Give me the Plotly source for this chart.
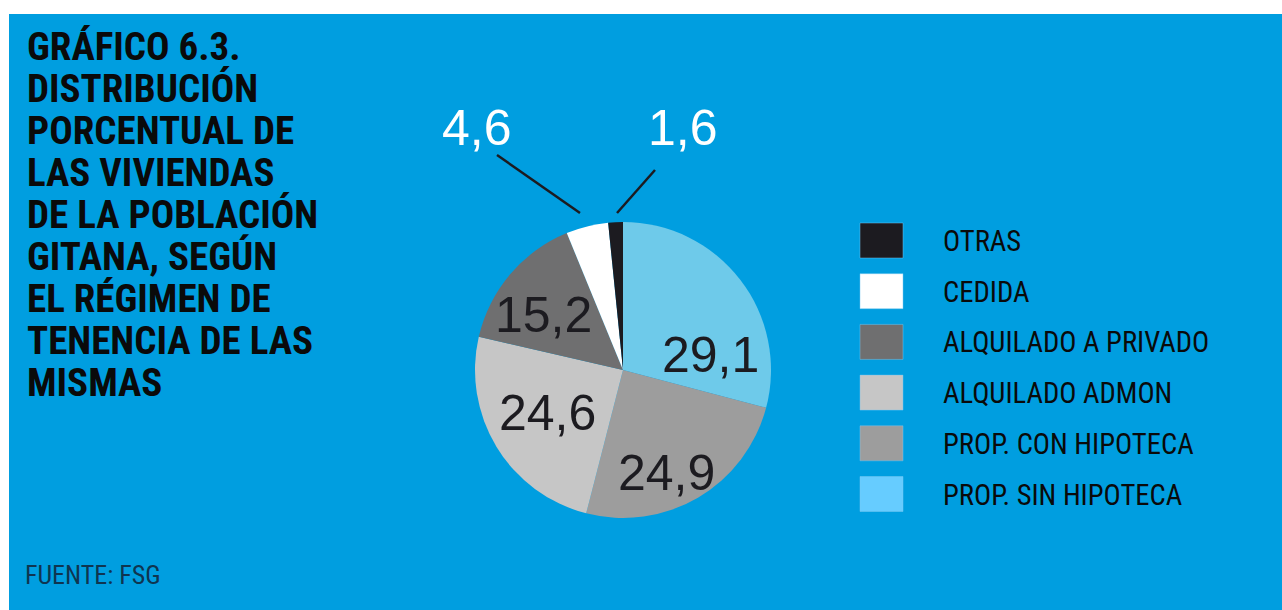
import plotly.graph_objects as go

W, H = 1282, 610

# ---- data ----
labels = ["PROP. SIN HIPOTECA", "PROP. CON HIPOTECA", "ALQUILADO ADMON",
          "ALQUILADO A PRIVADO", "CEDIDA", "OTRAS"]
values = [29.1, 24.9, 24.6, 15.2, 4.6, 1.6]
slice_colors = ["#6ECAEA", "#9D9D9D", "#C6C6C6", "#6F6F70", "#FFFFFF", "#1C1B20"]
legend_colors = ["#66CCFF", "#9D9D9D", "#C6C6C6", "#6F6F70", "#FFFFFF", "#1C1B20"]
title_lines = ["GRÁFICO 6.3.", "DISTRIBUCIÓN", "PORCENTUAL DE", "LAS VIVIENDAS",
               "DE LA POBLACIÓN", "GITANA, SEGÚN", "EL RÉGIMEN DE",
               "TENENCIA DE LAS", "MISMAS"]
source = "FUENTE: FSG"

# ---- style/layout ----
BLUE = "#009EE0"
NARROW = "Liberation Sans Narrow, Roboto Condensed, Arial Narrow, sans-serif"
NUMFONT = "Liberation Sans, Arial, sans-serif"

def px(x):
    return x / W

def py(y):
    return 1 - y / H

def fmt(v):
    return f"{v:.1f}".replace(".", ",")

cx, cy, R = 623, 370, 148

fig = go.Figure()
fig.add_trace(go.Pie(
    labels=labels, values=values, sort=False, direction="clockwise", rotation=0,
    marker=dict(colors=slice_colors, line=dict(width=0)),
    textinfo="none", hoverinfo="label+value", showlegend=False,
    domain=dict(x=[px(cx - R), px(cx + R)], y=[py(cy + R), py(cy - R)]),
))

shapes = [dict(type="rect", xref="paper", yref="paper", x0=px(9), x1=1, y0=0, y1=py(14),
               fillcolor=BLUE, line=dict(width=0), layer="below")]
annotations = []

# title
for i, t in enumerate(title_lines):
    annotations.append(dict(text=f"<b>{t}</b>", x=px(25), y=py(47 + 42 * i), xref="paper", yref="paper",
                            xanchor="left", yanchor="middle", showarrow=False,
                            font=dict(family=NARROW, size=39, color="#0A0A0A")))
# source
annotations.append(dict(text=source, x=px(23), y=py(575), xref="paper", yref="paper",
                        xanchor="left", yanchor="middle", showarrow=False,
                        font=dict(family=NARROW, size=26, color="#0F3550")))

# value labels
label_pos = [(710, 355), (666, 473), (547, 413), (543, 315), (477, 128), (683, 128)]
label_col = ["#1C1B20", "#1C1B20", "#1C1B20", "#1C1B20", "#FFFFFF", "#FFFFFF"]
for v, (x, y), c in zip(values, label_pos, label_col):
    annotations.append(dict(text=fmt(v), x=px(x), y=py(y), xref="paper", yref="paper",
                            xanchor="center", yanchor="middle", showarrow=False,
                            font=dict(family=NUMFONT, size=50, color=c)))
# leader lines
for (x0, y0, x1, y1) in [(497, 155, 580, 213), (655, 170, 617, 213)]:
    shapes.append(dict(type="line", xref="paper", yref="paper", x0=px(x0), y0=py(y0),
                       x1=px(x1), y1=py(y1), line=dict(color="#1C1B20", width=2.5)))

# legend (reversed order)
for i, (lab, col) in enumerate(zip(labels[::-1], legend_colors[::-1])):
    top = 223 + 50.7 * i
    shapes.append(dict(type="rect", xref="paper", yref="paper", x0=px(860), x1=px(903),
                       y0=py(top + 35), y1=py(top), fillcolor=col,
                       line=dict(width=0.8, color="rgba(120,200,240,0.6)")))
    annotations.append(dict(text=lab, x=px(941), y=py(top + 18), xref="paper", yref="paper",
                            xanchor="left", yanchor="middle", showarrow=False,
                            font=dict(family=NARROW, size=28.6, color="#0A0A0A")))

fig.update_layout(width=W, height=H, margin=dict(l=0, r=0, t=0, b=0),
                  paper_bgcolor="white", plot_bgcolor="white",
                  shapes=shapes, annotations=annotations, showlegend=False)
fig.write_html("out.html")
